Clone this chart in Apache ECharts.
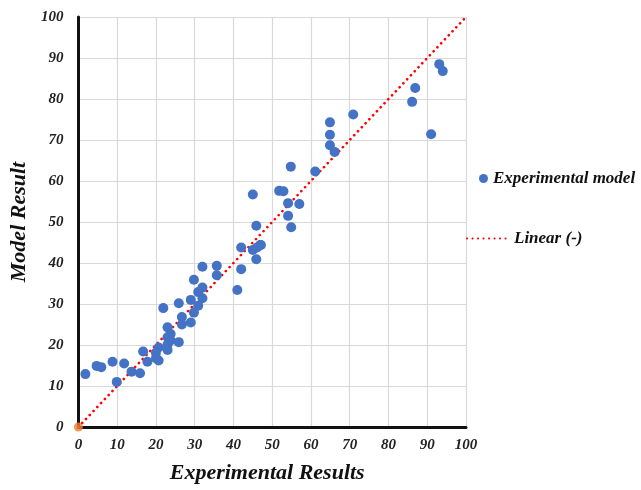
<!DOCTYPE html>
<html lang="en">
  <head>
    <meta charset="UTF-8" />
    <title>Model vs Experimental</title>
    <script src="https://cdn.jsdelivr.net/npm/echarts@6.0.0/dist/echarts.min.js"></script>
    <style>
      html, body { margin: 0; padding: 0; background: #fff; }
    </style>
  </head>
  <body>
    <div id="main" style="width: 641px; height: 490px"></div>

    <script>
      // experimental results (x) vs model result (y)
      var expX = [
        45.0, 93.1, 94.0, 86.9, 86.1, 91.0, 70.9, 64.9, 64.9, 64.9, 66.1, 54.8, 61.1, 51.8, 52.9,
        54.1, 57.0, 54.1, 54.9, 47.1, 45.9, 42.0, 45.0, 46.1, 46.9, 45.9, 42.0, 41.0, 32.0, 35.7,
        35.7, 29.8, 30.9, 32.0, 32.0, 29.0, 30.9, 29.8, 29.0, 25.9, 21.9, 26.7, 26.7, 23.0, 23.8,
        23.0, 23.8, 25.9, 23.0, 23.0, 20.7, 20.0, 16.7, 17.8, 20.7, 20.0, 13.7, 15.9, 11.8, 8.8,
        4.7, 5.9, 1.8, 9.9
      ]
      var modelY = [
        56.7, 88.5, 86.8, 82.7, 79.3, 71.4, 76.2, 74.3, 71.3, 68.7, 67.1, 63.5, 62.3, 57.6, 57.5,
        54.6, 54.4, 51.5, 48.7, 44.4, 49.1, 43.8, 43.2, 43.8, 44.4, 40.9, 38.5, 33.4, 39.1, 39.3,
        37.0, 35.9, 32.9, 34.0, 31.4, 31.0, 29.6, 27.9, 25.5, 30.2, 29.0, 26.8, 25.0, 24.3, 22.7,
        21.9, 21.1, 20.7, 20.1, 18.8, 19.4, 18.1, 18.4, 15.9, 16.2, 16.8, 13.5, 13.1, 15.5, 15.9,
        14.9, 14.6, 12.9, 11.0
      ]
      // linear (-) line
      var lineX = [0, 100]
      var lineY = [0, 100]
      var originPoint = [[0, 0]]

      var points = expX.map(function (x, i) { return [x, modelY[i]] })
      var linePts = lineX.map(function (x, i) { return [x, lineY[i]] })

      var serif = "Liberation Serif"
      var labelStyle = { fontFamily: serif, fontStyle: "italic", fontWeight: "bold", fontSize: 17, color: "#111" }
      var tickStyle = { fontFamily: serif, fontStyle: "italic", fontWeight: "bold", fontSize: 15, color: "#222" }
      var titleStyle = { fontFamily: serif, fontStyle: "italic", fontWeight: "bold", fontSize: 22, color: "#111" }

      var chart = echarts.init(document.getElementById("main"))
      chart.setOption({
        animation: false,
        grid: { left: 76.5, right: 175, top: 17, bottom: 63 },
        legend: [
          {
            data: ["Experimental model"],
            left: 474, top: 165,
            icon: "circle", itemWidth: 9, itemHeight: 9, itemGap: 8,
            textStyle: labelStyle
          },
          {
            data: ["Linear (-)"],
            left: 461, top: 225,
            itemWidth: 42, itemHeight: 10, itemGap: 3,
            itemStyle: { opacity: 0 },
            textStyle: labelStyle
          }
        ],
        xAxis: {
          type: "value", min: 0, max: 100, interval: 10,
          name: "Experimental Results", nameLocation: "middle", nameGap: 35,
          nameTextStyle: Object.assign({ padding: [0, 10, 0, 0] }, titleStyle),
          axisLine: { onZero: false, lineStyle: { color: "#111", width: 3 } },
          axisTick: { show: false },
          axisLabel: Object.assign({ margin: 11 }, tickStyle),
          splitLine: { lineStyle: { color: "#d9d9d9", width: 1.2 } }
        },
        yAxis: {
          type: "value", min: 0, max: 100, interval: 10,
          name: "Model Result", nameLocation: "middle", nameGap: 46, nameRotate: 90,
          nameTextStyle: titleStyle,
          axisLine: { show: true, onZero: false, lineStyle: { color: "#111", width: 3 } },
          axisTick: { show: false },
          axisLabel: Object.assign({ margin: 15 }, tickStyle),
          splitLine: { lineStyle: { color: "#d9d9d9", width: 1.2 } }
        },
        series: [
          {
            name: "Linear (-)",
            type: "line",
            data: linePts,
            symbol: "none",
            itemStyle: { color: "#ff0000" },
            lineStyle: { color: "#ff0000", width: 2.6, type: [0.1, 5.4], cap: "round" },
            z: 3
          },
          {
            name: "Experimental model",
            type: "scatter",
            data: points,
            symbolSize: 10,
            itemStyle: { color: "#4472c4", opacity: 1 },
            z: 4
          },
          {
            name: "origin",
            type: "scatter",
            data: originPoint,
            symbolSize: 9,
            itemStyle: { color: "#ed7d31" },
            z: 5
          }
        ]
      })
    </script>
  </body>
</html>
